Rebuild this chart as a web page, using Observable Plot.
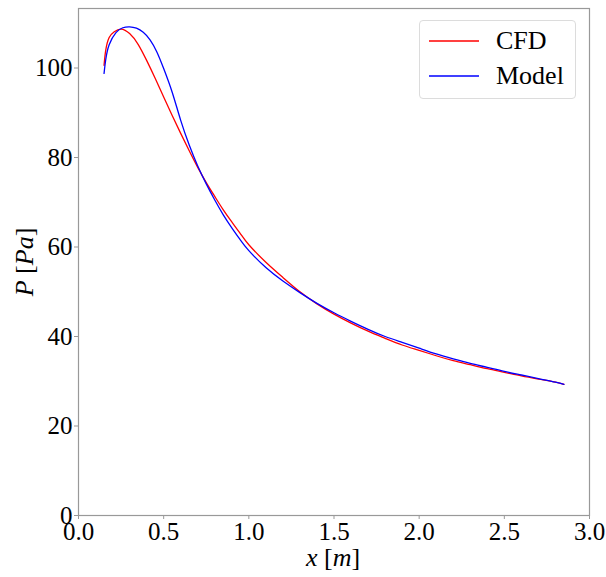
<!DOCTYPE html>
<html>
<head>
<meta charset="utf-8">
<script src="https://cdn.jsdelivr.net/npm/d3@7"></script>
<script src="https://cdn.jsdelivr.net/npm/@observablehq/plot@0.6"></script>
<style>
  html, body { margin: 0; padding: 0; background: #fff; }
  #wrap { position: relative; width: 606px; height: 577px; }
  #wrap svg text { font-family: "Liberation Serif", serif !important; }
  #legend {
    position: absolute; left: 419px; top: 20px; width: 155px; height: 77px;
    border: 1px solid #dcdcdc; border-radius: 4px; background: rgba(255,255,255,0.8);
    font-family: "Liberation Serif", serif; font-size: 26px; color: #000;
  }
  #legend .row { position: absolute; left: 0; height: 30px; display: flex; align-items: center; }
  #legend svg { margin-left: 9px; }
  #legend span { margin-left: 17px; }
</style>
</head>
<body>
<div id="wrap"></div>
<script>
const cfdX = [0.15, 0.16, 0.18, 0.21, 0.25, 0.30, 0.35, 0.40, 0.45, 0.50, 0.55, 0.60, 0.65, 0.70, 0.75, 0.80, 0.85, 0.90, 0.95, 1.00, 1.10, 1.20, 1.30, 1.40, 1.50, 1.60, 1.70, 1.80, 1.90, 2.00, 2.10, 2.20, 2.30, 2.40, 2.50, 2.60, 2.70, 2.80, 2.85];
const cfdP = [100.6, 104.0, 106.8, 108.1, 108.7, 107.7, 105.3, 101.7, 97.7, 93.5, 89.4, 85.4, 81.5, 77.8, 74.4, 71.3, 68.3, 65.6, 63.0, 60.5, 56.6, 53.2, 50.0, 47.3, 45.0, 43.0, 41.2, 39.6, 38.1, 36.9, 35.7, 34.6, 33.7, 32.8, 32.0, 31.2, 30.5, 29.8, 29.3];
const modelX = [0.15, 0.16, 0.18, 0.22, 0.26, 0.30, 0.34, 0.38, 0.42, 0.46, 0.50, 0.55, 0.60, 0.65, 0.70, 0.75, 0.80, 0.85, 0.90, 0.95, 1.00, 1.10, 1.20, 1.30, 1.40, 1.50, 1.60, 1.70, 1.80, 1.90, 2.00, 2.10, 2.20, 2.30, 2.40, 2.50, 2.60, 2.70, 2.80, 2.85];
const modelP = [98.8, 101.9, 105.2, 107.9, 109.0, 109.2, 108.9, 108.0, 106.3, 103.6, 99.9, 94.6, 88.3, 82.8, 78.1, 74.1, 70.5, 67.2, 64.3, 61.6, 59.2, 55.4, 52.4, 49.8, 47.4, 45.3, 43.4, 41.6, 40.0, 38.7, 37.4, 36.1, 35.0, 34.0, 33.1, 32.2, 31.4, 30.6, 29.8, 29.3];
const xTicks = [0, 0.5, 1.0, 1.5, 2.0, 2.5, 3.0];
const yTicks = [0, 20, 40, 60, 80, 100];
const seriesNames = ["CFD", "Model"];
const seriesColors = ["#ff0000", "#0000ff"];

const cfd = cfdX.map((x, i) => ({x, y: cfdP[i]}));
const model = modelX.map((x, i) => ({x, y: modelP[i]}));

const chart = Plot.plot({
  width: 606,
  height: 577,
  marginLeft: 78,
  marginRight: 17,
  marginTop: 8,
  marginBottom: 62,
  style: {fontFamily: "'Liberation Serif', serif", fontSize: "25px", color: "#000", background: "#fff"},
  x: {domain: [0, 3], label: null},
  y: {domain: [0, 113.3], label: null},
  marks: [
    Plot.axisX({ticks: xTicks, tickFormat: d3.format(".1f"), tickSize: 4, tickPadding: 3, stroke: "#999", fill: "#000", fontSize: 25, label: null}),
    Plot.axisY({ticks: yTicks, tickSize: 4, tickPadding: 2, stroke: "#999", fill: "#000", fontSize: 25, label: null}),
    Plot.line(cfd, {x: "x", y: "y", stroke: seriesColors[0], strokeWidth: 1.3, curve: "natural"}),
    Plot.line(model, {x: "x", y: "y", stroke: seriesColors[1], strokeWidth: 1.3, curve: "natural"}),
    Plot.frame({stroke: "#999", strokeWidth: 1.2})
  ]
});

const svg = d3.select(chart);
svg.selectAll("text")
  .style("font-size", "25px")
  .style("font-family", "'Liberation Serif', serif");

// x label
const xl = svg.append("text").attr("x", 333).attr("y", 566).attr("text-anchor", "middle")
  .style("font-size", "26px");
xl.append("tspan").attr("font-style", "italic").text("x");
xl.append("tspan").text(" [");
xl.append("tspan").attr("font-style", "italic").text("m");
xl.append("tspan").text("]");
// y label
const yl = svg.append("text").attr("transform", "translate(33,262) rotate(-90)").attr("text-anchor", "middle")
  .style("font-size", "26px");
yl.append("tspan").attr("font-style", "italic").text("P");
yl.append("tspan").text(" [");
yl.append("tspan").attr("font-style", "italic").text("Pa");
yl.append("tspan").text("]");

const wrap = document.getElementById("wrap");
wrap.appendChild(chart);

const legend = document.createElement("div");
legend.id = "legend";
seriesNames.forEach((name, i) => {
  const row = document.createElement("div");
  row.className = "row";
  row.style.top = (5 + i * 35) + "px";
  row.innerHTML = `<svg width="50" height="4"><line x1="0" x2="50" y1="2" y2="2" stroke="${seriesColors[i]}" stroke-width="1.3"/></svg><span>${name}</span>`;
  legend.appendChild(row);
});
wrap.appendChild(legend);
</script>
</body>
</html>
